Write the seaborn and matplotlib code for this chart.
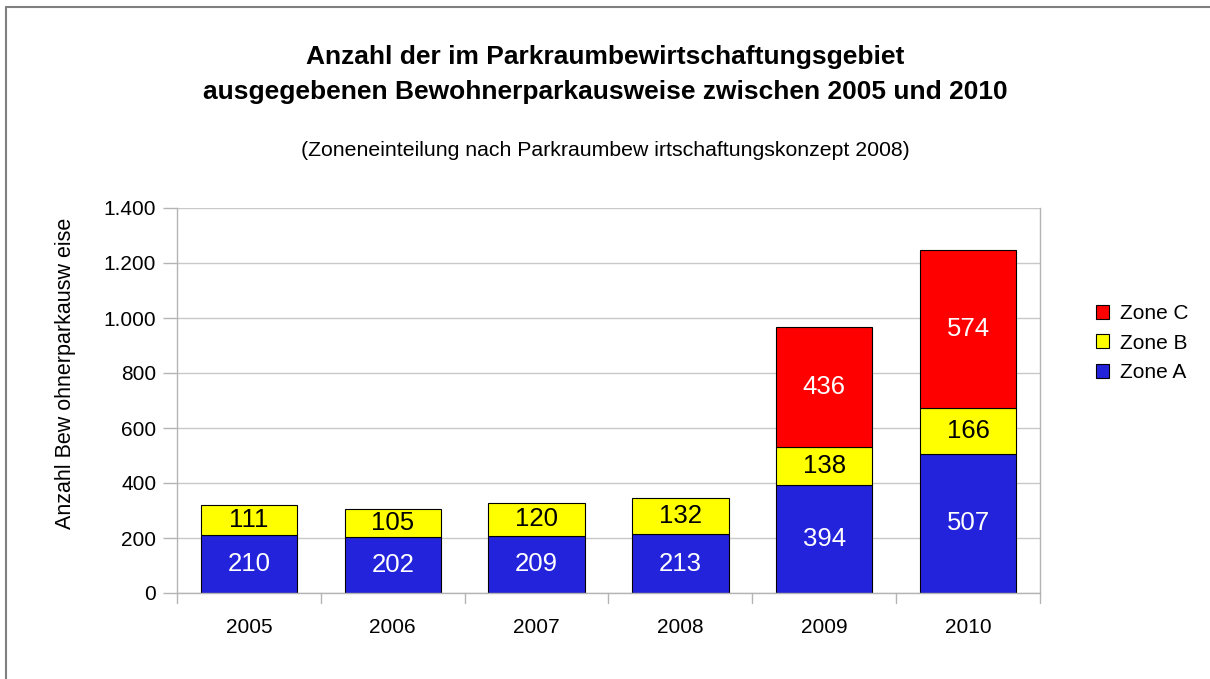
import matplotlib
matplotlib.use("Agg")
import matplotlib.pyplot as plt
import seaborn as sns
import pandas as pd
from matplotlib.lines import Line2D

years = ["2005", "2006", "2007", "2008", "2009", "2010"]
zone_a = [210, 202, 209, 213, 394, 507]
zone_b = [111, 105, 120, 132, 138, 166]
zone_c_years = ["2009", "2010"]
zone_c = [436, 574]
y_ticks = [0, 200, 400, 600, 800, 1000, 1200, 1400]
y_tick_labels = ["0", "200", "400", "600", "800", "1.000", "1.200", "1.400"]

sns.set_theme(style="white")
plt.rcParams["font.family"] = ["Liberation Sans", "DejaVu Sans"]
plt.rcParams["text.color"] = "black"
plt.rcParams["xtick.color"] = "black"
plt.rcParams["ytick.color"] = "black"

fig = plt.figure(figsize=(12.1, 6.79), dpi=100)
ax = fig.add_axes([177/1210, 1-593/679, (1040-177)/1210, (593-208)/679])

df = pd.DataFrame({"year": years, "A": zone_a, "B": zone_b})
dfc = pd.DataFrame({"year": zone_c_years, "C": zone_c})
bottom_b = df["A"].values
ab = dict(zip(years, (df["A"] + df["B"]).values))
bottom_c = [ab[y] for y in zone_c_years]

colors = {"A": "#2323dc", "B": "#ffff00", "C": "#ff0000"}
w = 0.67
common = dict(width=w, saturation=1, edgecolor="black", linewidth=0.8, ax=ax, order=years)
sns.barplot(data=df, x="year", y="A", color=colors["A"], label="Zone A", **common)
sns.barplot(data=df, x="year", y="B", bottom=bottom_b, color=colors["B"], label="Zone B", **common)
sns.barplot(data=dfc, x="year", y="C", bottom=bottom_c, color=colors["C"], label="Zone C", **common)

conts = ax.containers
for c, vals, tc in zip(conts, [zone_a, zone_b, zone_c], ["white", "black", "white"]):
    ax.bar_label(c, labels=[str(v) for v in vals], label_type="center", color=tc, fontsize=18.5)

handles, labels_ = ax.get_legend_handles_labels()
if ax.get_legend() is not None:
    ax.get_legend().remove()

ax.set_xlim(-0.5, 5.5)
ax.set_ylim(0, 1400)
ax.set_yticks(y_ticks)
ax.set_yticklabels(y_tick_labels, fontsize=15)
ax.set_xticks(range(len(years)))
ax.set_xticklabels(years, fontsize=15)
ax.set_xlabel("")
ax.set_ylabel("")
ax.grid(axis="y", color="#c8c8c8", linewidth=1)
ax.set_axisbelow(True)
ax.spines["top"].set_visible(False)
for s in ["left", "bottom", "right"]:
    ax.spines[s].set_color("#b4b4b4")
    ax.spines[s].set_linewidth(1)
ax.tick_params(axis="y", length=10, color="#b4b4b4", width=1, pad=5, left=True)
ax.tick_params(axis="x", length=0, pad=18)
for xb in [-0.5 + i for i in range(7)]:
    ax.plot([xb, xb], [0, -0.026], transform=ax.get_xaxis_transform(), color="#b4b4b4",
            linewidth=1, clip_on=False)

fig.text(0.5, 1-57/679, "Anzahl der im Parkraumbewirtschaftungsgebiet", ha="center", va="center",
         fontsize=19, fontweight="bold")
fig.text(0.5, 1-92/679, "ausgegebenen Bewohnerparkausweise zwischen 2005 und 2010", ha="center", va="center",
         fontsize=19, fontweight="bold")
fig.text(0.5, 1-150/679, "(Zoneneinteilung nach Parkraumbew irtschaftungskonzept 2008)", ha="center",
         va="center", fontsize=15.3)
fig.text(66/1210, 1-373/679, "Anzahl Bew ohnerparkausw eise", rotation=90, ha="center", va="center",
         fontsize=15.5)

leg = fig.legend(handles[::-1], labels_[::-1], loc="center left",
                 bbox_to_anchor=(1077/1210, 1-343/679), frameon=False, fontsize=15,
                 handlelength=0.65, handleheight=0.65, handletextpad=0.5, labelspacing=0.5)

fig.add_artist(Line2D([6/1210, 6/1210], [0, 1-7/679], color="#808080", linewidth=1.5))
fig.add_artist(Line2D([6/1210, 1], [1-7/679, 1-7/679], color="#808080", linewidth=1.5))

fig.savefig("out.png", dpi=100)
